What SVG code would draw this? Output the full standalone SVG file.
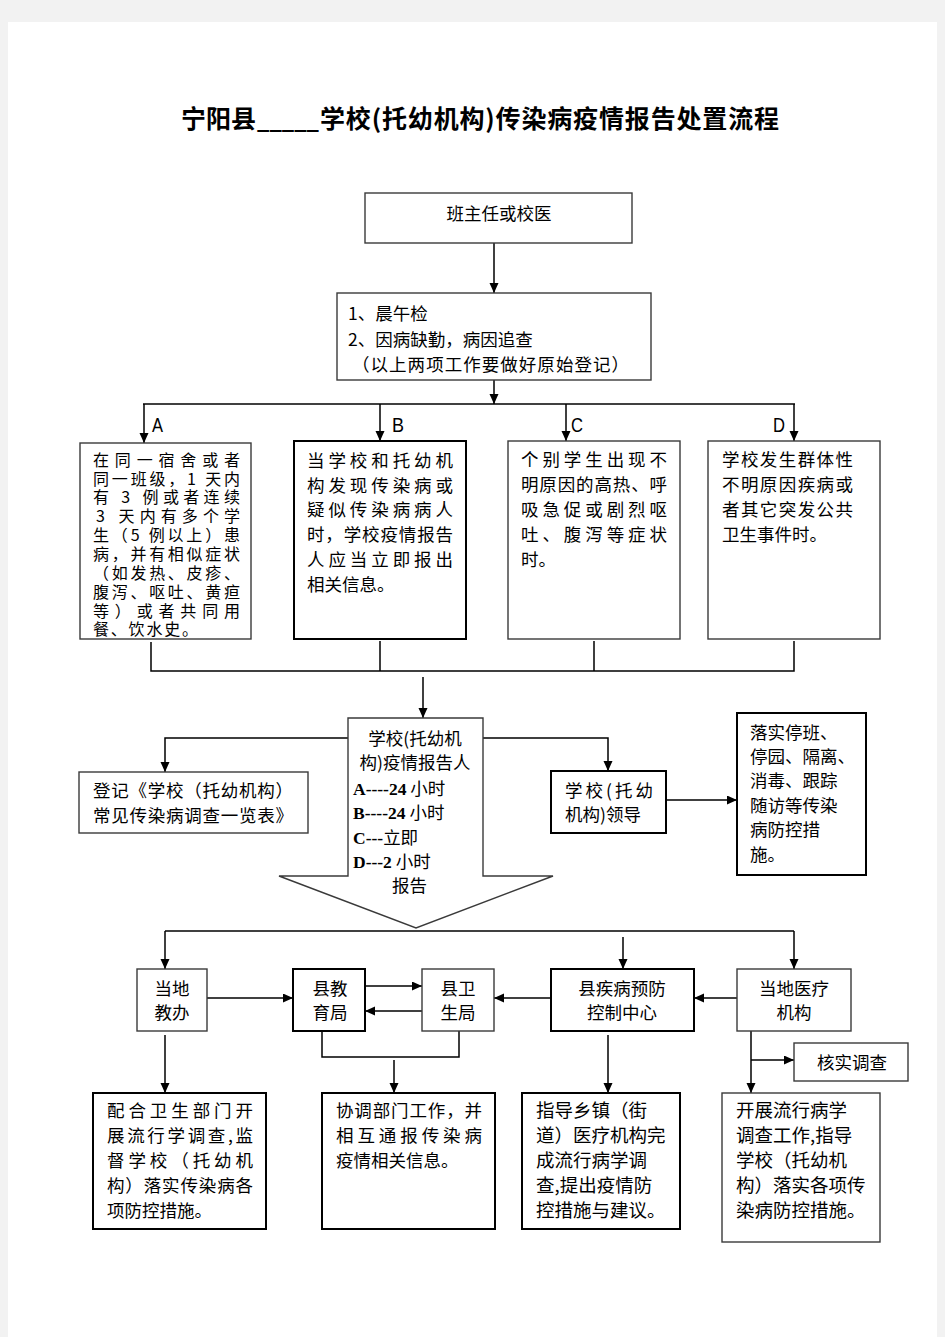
<svg xmlns="http://www.w3.org/2000/svg" width="945" height="1337" viewBox="0 0 945 1337">
<defs>
<marker id="ah" markerUnits="userSpaceOnUse" markerWidth="10" markerHeight="10" refX="10" refY="4.5" orient="auto">
<path d="M0,0 L10,4.5 L0,9 z" fill="#000"/>
</marker>
<style>
.bx{fill:#fff;stroke:#3a3a3a;stroke-width:1.4}
.bk{fill:#fff;stroke:#000;stroke-width:2}
.c{fill:none;stroke:#000;stroke-width:1.5}
.a{fill:none;stroke:#000;stroke-width:1.5;marker-end:url(#ah)}
.t{font-family:"Noto Sans CJK SC","Noto Sans CJK JP",sans-serif;font-size:17.5px;fill:#000}
.m{text-anchor:middle}
.lb{font-family:"Liberation Sans",Arial,sans-serif;font-size:21px;fill:#000}
.b{font-family:"Liberation Serif","Times New Roman",serif;font-weight:bold}
.ttl{font-family:"Noto Sans CJK SC",sans-serif;font-size:25px;font-weight:bold;fill:#000}
</style>
</defs>
<rect x="0" y="0" width="945" height="1337" fill="#f2f2f2"/>
<rect x="8" y="22" width="929" height="1315" fill="#fff"/>

<text class="ttl" y="128"><tspan x="181">宁阳县</tspan><tspan x="257" textLength="62" lengthAdjust="spacingAndGlyphs">_____</tspan><tspan x="320" textLength="459" lengthAdjust="spacing">学校(托幼机构)传染病疫情报告处置流程</tspan></text>

<g id="connectors">
<line class="a" x1="494" y1="243" x2="494" y2="293"/>
<line class="a" x1="494" y1="380" x2="494" y2="404"/>
<line class="c" x1="143" y1="404" x2="795" y2="404"/>
<line class="a" x1="144" y1="404" x2="144" y2="443"/>
<line class="a" x1="380" y1="404" x2="380" y2="441"/>
<line class="a" x1="566" y1="404" x2="566" y2="441"/>
<line class="a" x1="794" y1="404" x2="794" y2="441"/>
<path class="c" d="M151,642 V671 H794 V641 M380,641 V671 M594,641 V671"/>
<line class="a" x1="423" y1="677" x2="423" y2="718"/>
<path class="a" d="M348,738 H165 V772"/>
<path class="a" d="M483,738 H608 V771"/>
<line class="a" x1="666" y1="800" x2="737" y2="800"/>
<line class="c" x1="165" y1="931" x2="794" y2="931"/>
<line class="a" x1="165" y1="931" x2="165" y2="969"/>
<line class="a" x1="623" y1="937" x2="623" y2="969"/>
<line class="a" x1="794" y1="931" x2="794" y2="969"/>
<line class="a" x1="207" y1="998" x2="293" y2="998"/>
<line class="a" x1="365" y1="986" x2="422" y2="986"/>
<line class="a" x1="422" y1="1011" x2="365" y2="1011"/>
<line class="a" x1="551" y1="998" x2="494" y2="998"/>
<line class="a" x1="737" y1="998" x2="694" y2="998"/>
<path class="c" d="M322,1031 V1057 H459 V1031"/>
<line class="a" x1="394" y1="1060" x2="394" y2="1093"/>
<line class="a" x1="165" y1="1035" x2="165" y2="1093"/>
<line class="a" x1="608" y1="1035" x2="608" y2="1093"/>
<line class="a" x1="751" y1="1031" x2="751" y2="1093"/>
<line class="a" x1="751" y1="1060" x2="794" y2="1060"/>
</g>

<g id="labels">
<text class="lb" x="152" y="432" textLength="11" lengthAdjust="spacingAndGlyphs">A</text>
<text class="lb" x="392" y="432" textLength="12" lengthAdjust="spacingAndGlyphs">B</text>
<text class="lb" x="571" y="432" textLength="12" lengthAdjust="spacingAndGlyphs">C</text>
<text class="lb" x="773" y="432" textLength="12" lengthAdjust="spacingAndGlyphs">D</text>
</g>

<g id="n1">
<rect class="bx" x="365" y="193" width="267" height="50"/>
<text class="t m" x="499" y="220">班主任或校医</text>
</g>

<g id="n2">
<rect class="bx" x="337" y="293" width="314" height="87"/>
<text class="t" x="348" y="320">1、晨午检</text>
<text class="t" x="348" y="346">2、因病缺勤，病因追查</text>
<text class="t" x="352" y="371" textLength="277" lengthAdjust="spacing">（以上两项工作要做好原始登记）</text>
</g>

<g id="nA">
<rect class="bx" x="80" y="443" width="171" height="196"/>
<text class="t" style="font-size:16px">
<tspan x="93" y="466" textLength="147" lengthAdjust="spacing">在同一宿舍或者</tspan>
<tspan x="93" y="485" textLength="147" lengthAdjust="spacing">同一班级，1 天内</tspan>
<tspan x="93" y="503" textLength="147" lengthAdjust="spacing">有 3 例或者连续</tspan>
<tspan x="96" y="522" textLength="144" lengthAdjust="spacing">3 天内有多个学</tspan>
<tspan x="93" y="541" textLength="147" lengthAdjust="spacing">生（5 例以上）患</tspan>
<tspan x="93" y="560" textLength="147" lengthAdjust="spacing">病，并有相似症状</tspan>
<tspan x="93" y="579" textLength="147" lengthAdjust="spacing">（如发热、皮疹、</tspan>
<tspan x="93" y="598" textLength="147" lengthAdjust="spacing">腹泻、呕吐、黄疸</tspan>
<tspan x="93" y="617" textLength="147" lengthAdjust="spacing">等）或者共同用</tspan>
<tspan x="93" y="635" textLength="105" lengthAdjust="spacing">餐、饮水史。</tspan>
</text>
</g>

<g id="nB">
<rect class="bk" x="294" y="441" width="172" height="198"/>
<text class="t">
<tspan x="307" y="467" textLength="146" lengthAdjust="spacing">当学校和托幼机</tspan>
<tspan x="307" y="492" textLength="146" lengthAdjust="spacing">构发现传染病或</tspan>
<tspan x="307" y="516" textLength="146" lengthAdjust="spacing">疑似传染病病人</tspan>
<tspan x="307" y="541" textLength="146" lengthAdjust="spacing">时，学校疫情报告</tspan>
<tspan x="307" y="566" textLength="146" lengthAdjust="spacing">人应当立即报出</tspan>
<tspan x="307" y="591">相关信息。</tspan>
</text>
</g>

<g id="nC">
<rect class="bx" x="508" y="441" width="172" height="198"/>
<text class="t">
<tspan x="521" y="466" textLength="146" lengthAdjust="spacing">个别学生出现不</tspan>
<tspan x="521" y="491" textLength="146" lengthAdjust="spacing">明原因的高热、呼</tspan>
<tspan x="521" y="516" textLength="146" lengthAdjust="spacing">吸急促或剧烈呕</tspan>
<tspan x="521" y="541" textLength="146" lengthAdjust="spacing">吐、腹泻等症状</tspan>
<tspan x="521" y="566">时。</tspan>
</text>
</g>

<g id="nD">
<rect class="bx" x="708" y="441" width="172" height="198"/>
<text class="t">
<tspan x="722" y="466" textLength="131" lengthAdjust="spacing">学校发生群体性</tspan>
<tspan x="722" y="491" textLength="131" lengthAdjust="spacing">不明原因疾病或</tspan>
<tspan x="722" y="516" textLength="131" lengthAdjust="spacing">者其它突发公共</tspan>
<tspan x="722" y="541">卫生事件时。</tspan>
</text>
</g>

<g id="nReport">
<path class="bx" d="M348,718 H483 V876 H553 L416,928 L279,876 H348 Z"/>
<text class="t m" x="415" y="745">学校(托幼机</text>
<text class="t m" x="415" y="769">构)疫情报告人</text>
<text class="t" x="353" y="795"><tspan class="b">A----24</tspan> 小时</text>
<text class="t" x="353" y="819"><tspan class="b">B----24</tspan> 小时</text>
<text class="t" x="353" y="844"><tspan class="b">C---</tspan>立即</text>
<text class="t" x="353" y="868"><tspan class="b">D---2</tspan> 小时</text>
<text class="t" x="392" y="892">报告</text>
</g>

<g id="nRegister">
<rect class="bx" x="79" y="772" width="229" height="61"/>
<text class="t" x="93" y="797" textLength="200" lengthAdjust="spacing">登记《学校（托幼机构）</text>
<text class="t" x="93" y="822" textLength="200" lengthAdjust="spacing">常见传染病调查一览表》</text>
</g>

<g id="nLeader">
<rect class="bk" x="551" y="771" width="115" height="62"/>
<text class="t" x="565" y="797" textLength="88" lengthAdjust="spacing">学校(托幼</text>
<text class="t" x="565" y="821">机构)领导</text>
</g>

<g id="nMeasures">
<rect class="bk" x="737" y="713" width="129" height="162"/>
<text class="t">
<tspan x="750" y="739">落实停班、</tspan>
<tspan x="750" y="763">停园、隔离、</tspan>
<tspan x="750" y="787">消毒、跟踪</tspan>
<tspan x="750" y="812">随访等传染</tspan>
<tspan x="750" y="836">病防控措</tspan>
<tspan x="750" y="861">施。</tspan>
</text>
</g>

<g id="nJiaoban">
<rect class="bx" x="137" y="969" width="70" height="62"/>
<text class="t m" x="172" y="995">当地</text>
<text class="t m" x="172" y="1019">教办</text>
</g>

<g id="nJiaoyu">
<rect class="bk" x="293" y="969" width="72" height="62"/>
<text class="t m" x="330" y="995">县教</text>
<text class="t m" x="330" y="1019">育局</text>
</g>

<g id="nWeisheng">
<rect class="bx" x="422" y="969" width="72" height="62"/>
<text class="t m" x="458" y="995">县卫</text>
<text class="t m" x="458" y="1019">生局</text>
</g>

<g id="nCDC">
<rect class="bk" x="551" y="969" width="143" height="62"/>
<text class="t m" x="622" y="995">县疾病预防</text>
<text class="t m" x="622" y="1019">控制中心</text>
</g>

<g id="nHospital">
<rect class="bx" x="737" y="969" width="114" height="62"/>
<text class="t m" x="794" y="995">当地医疗</text>
<text class="t m" x="794" y="1019">机构</text>
</g>

<g id="nVerify">
<rect class="bx" x="794" y="1043" width="114" height="38"/>
<text class="t m" x="852" y="1069">核实调查</text>
</g>

<g id="nB1">
<rect class="bk" x="93" y="1093" width="173" height="136"/>
<text class="t">
<tspan x="107" y="1117" textLength="146" lengthAdjust="spacing">配合卫生部门开</tspan>
<tspan x="107" y="1142" textLength="146" lengthAdjust="spacing">展流行学调查,监</tspan>
<tspan x="107" y="1167" textLength="146" lengthAdjust="spacing">督学校（托幼机</tspan>
<tspan x="107" y="1192" textLength="146" lengthAdjust="spacing">构）落实传染病各</tspan>
<tspan x="107" y="1217">项防控措施。</tspan>
</text>
</g>

<g id="nB2">
<rect class="bk" x="322" y="1093" width="173" height="136"/>
<text class="t">
<tspan x="336" y="1117" textLength="146" lengthAdjust="spacing">协调部门工作，并</tspan>
<tspan x="336" y="1142" textLength="146" lengthAdjust="spacing">相互通报传染病</tspan>
<tspan x="336" y="1167">疫情相关信息。</tspan>
</text>
</g>

<g id="nB3">
<rect class="bk" x="522" y="1093" width="158" height="136"/>
<text class="t" style="font-size:18.5px">
<tspan x="536" y="1117">指导乡镇（街</tspan>
<tspan x="536" y="1142">道）医疗机构完</tspan>
<tspan x="536" y="1167">成流行病学调</tspan>
<tspan x="536" y="1192">查,提出疫情防</tspan>
<tspan x="536" y="1217">控措施与建议。</tspan>
</text>
</g>

<g id="nB4">
<rect class="bx" x="722" y="1093" width="158" height="149"/>
<text class="t" style="font-size:18.5px">
<tspan x="736" y="1117">开展流行病学</tspan>
<tspan x="736" y="1142">调查工作,指导</tspan>
<tspan x="736" y="1167">学校（托幼机</tspan>
<tspan x="736" y="1192">构）落实各项传</tspan>
<tspan x="736" y="1217">染病防控措施。</tspan>
</text>
</g>
</svg>
